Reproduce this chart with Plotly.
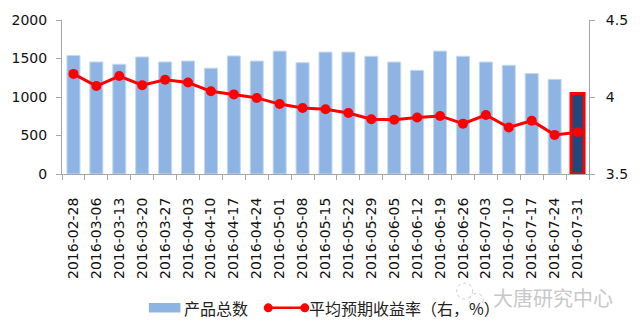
import plotly.graph_objects as go

# Weekly data, 2016-02-28 to 2016-07-31
dates = ["2016-02-28", "2016-03-06", "2016-03-13", "2016-03-20", "2016-03-27",
         "2016-04-03", "2016-04-10", "2016-04-17", "2016-04-24", "2016-05-01",
         "2016-05-08", "2016-05-15", "2016-05-22", "2016-05-29", "2016-06-05",
         "2016-06-12", "2016-06-19", "2016-06-26", "2016-07-03", "2016-07-10",
         "2016-07-17", "2016-07-24", "2016-07-31"]
product_count = [1540, 1455, 1425, 1520, 1455, 1467, 1375, 1533, 1467, 1596,
                 1446, 1583, 1583, 1529, 1454, 1346, 1596, 1529, 1454, 1412,
                 1304, 1229, 1045]
avg_yield = [4.150, 4.071, 4.136, 4.077, 4.112, 4.094, 4.037, 4.017, 3.994, 3.954,
             3.929, 3.921, 3.896, 3.856, 3.852, 3.867, 3.877, 3.827, 3.883, 3.802,
             3.846, 3.754, 3.771]

left_ticks = [0, 500, 1000, 1500, 2000]
right_ticks = [3.5, 4, 4.5]

bar_name = "产品总数"
line_name = "平均预期收益率（右，%）"

BAR_BLUE = "#8EB4E3"
RED = "#FF0000"

n = len(dates)
bar_colors = [BAR_BLUE] * (n - 1) + ["#1F497D"]
bar_line_colors = ["#C6D9F1"] * (n - 1) + [RED]
bar_line_widths = [1] * (n - 1) + [3]

font_family = "DejaVu Sans, Noto Sans CJK SC"
cjk_family = "Noto Sans CJK SC"

fig = go.Figure()
fig.add_trace(go.Bar(
    x=dates, y=product_count, name=bar_name,
    marker=dict(color=bar_colors,
                line=dict(color=bar_line_colors, width=bar_line_widths)),
    yaxis="y",
))
fig.add_trace(go.Scatter(
    x=dates, y=avg_yield, name=line_name,
    mode="lines+markers",
    line=dict(color=RED, width=3),
    marker=dict(color=RED, size=10),
    yaxis="y2",
))

axis_line = "#A6A6A6"
tick_font = dict(family=font_family, size=14, color="#111111")
fig.update_layout(
    width=640, height=334,
    margin=dict(l=59, r=47, t=14, b=160),
    plot_bgcolor="white", paper_bgcolor="white",
    bargap=0.43,
    showlegend=False,
    xaxis=dict(
        type="category", tickangle=-90,
        showline=True, linecolor=axis_line, linewidth=1,
        ticks="outside", ticklen=5, tickcolor=axis_line, tickson="boundaries",
        ticklabelstandoff=17,
        tickfont=tick_font,
        showgrid=False, zeroline=False,
        range=[-0.5, n - 0.5],
    ),
    yaxis=dict(
        range=[0, 2000], tickvals=left_ticks,
        showline=True, linecolor=axis_line, linewidth=1,
        ticks="outside", ticklen=5, tickcolor=axis_line,
        ticklabelstandoff=6,
        tickfont=tick_font,
        showgrid=False, zeroline=False,
    ),
    yaxis2=dict(
        range=[3.5, 4.5], tickvals=right_ticks, ticktext=["3.5", "4", "4.5"],
        overlaying="y", side="right",
        showline=True, linecolor=axis_line, linewidth=1,
        ticks="outside", ticklen=5, tickcolor=axis_line,
        ticklabelstandoff=8,
        tickfont=tick_font,
        showgrid=False, zeroline=False,
    ),
)

# Hand-built legend below the axis labels
legend_y = -0.869
legend_font = dict(family=cjk_family, size=16, color="#222222")
fig.add_shape(type="rect", xref="paper", yref="paper",
              x0=0.1648, x1=0.2247, y0=-0.9, y1=-0.8375,
              fillcolor=BAR_BLUE, line=dict(width=0))
fig.add_annotation(text=bar_name, xref="paper", yref="paper",
                   x=0.2285, y=legend_y, xanchor="left", yanchor="middle",
                   showarrow=False, font=legend_font)
fig.add_shape(type="line", xref="paper", yref="paper",
              x0=0.3914, x1=0.4607, y0=legend_y, y1=legend_y,
              line=dict(color=RED, width=2.5))
for xa in (0.3914, 0.4607):
    fig.add_shape(type="circle", xref="paper", yref="paper",
                  xsizemode="pixel", ysizemode="pixel",
                  xanchor=xa, yanchor=legend_y,
                  x0=-4.5, x1=4.5, y0=-4.5, y1=4.5,
                  fillcolor=RED, line=dict(width=0))
fig.add_annotation(text=line_name, xref="paper", yref="paper",
                   x=0.4644, y=legend_y, xanchor="left", yanchor="middle",
                   showarrow=False, font=legend_font)

# Channel watermark
for cx, cy, r in ((0.7640, -0.76, 8), (0.7860, -0.82, 7)):
    fig.add_shape(type="circle", xref="paper", yref="paper",
                  xsizemode="pixel", ysizemode="pixel",
                  xanchor=cx, yanchor=cy, x0=-r, x1=r, y0=-r, y1=r,
                  fillcolor="rgba(0,0,0,0)",
                  line=dict(color="#D8D8D8", width=1.2, dash="dot"))
fig.add_annotation(
    text="大唐研究中心", xref="paper", yref="paper",
    x=0.9326, y=-0.80, xanchor="center", yanchor="middle", showarrow=False,
    font=dict(family=cjk_family, size=20, color="#C8C8C8"),
)

fig.write_html("out.html")
